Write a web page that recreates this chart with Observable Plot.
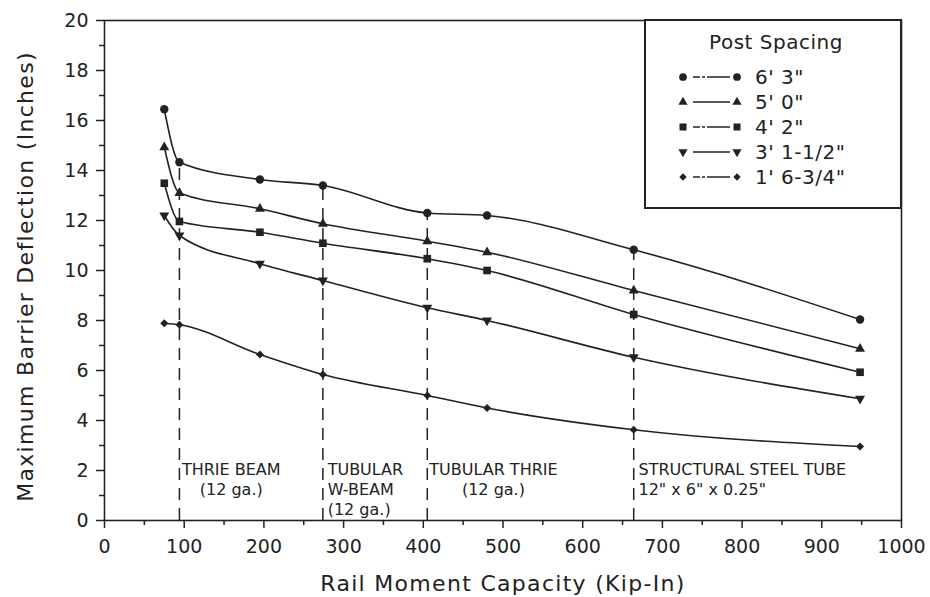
<!DOCTYPE html>
<html>
<head>
<meta charset="utf-8">
<script src="https://cdn.jsdelivr.net/npm/d3@7"></script>
<script src="https://cdn.jsdelivr.net/npm/@observablehq/plot@0.6"></script>
<style>
  body { margin: 0; background: #fff; }
  #chart svg { display: block; }
</style>
</head>
<body>
<div id="chart"></div>
<script>
// ---- Data ----
const railMoment = [75, 94, 195, 274, 405, 480, 664, 948];   // Kip-In
const seriesNames = ["6' 3\"", "5' 0\"", "4' 2\"", "3' 1-1/2\"", "1' 6-3/4\""];
const spacing63  = [16.45, 14.33, 13.64, 13.40, 12.30, 12.20, 10.83, 8.04];
const spacing50  = [14.93, 13.10, 12.47, 11.87, 11.17, 10.73,  9.20, 6.87];
const spacing42  = [13.49, 11.96, 11.53, 11.09, 10.47, 10.00,  8.24, 5.93];
const spacing31  = [12.20, 11.40, 10.27,  9.60,  8.51,  8.00,  6.53, 4.87];
const spacing16  = [ 7.89,  7.83,  6.64,  5.84,  5.00,  4.50,  3.63, 2.96];
const seriesValues = [spacing63, spacing50, spacing42, spacing31, spacing16];

// rail types marked with dashed lines (x positions are data points)
const railTypeX = [94, 274, 405, 664];
const annoText  = ["THRIE BEAM\n(12 ga.)", "TUBULAR\nW-BEAM\n(12 ga.)", "TUBULAR THRIE\n(12 ga.)", "STRUCTURAL STEEL TUBE\n12\" x 6\" x 0.25\""];
const annoX     = [159, 280, 488, 670];
const annoY     = [2.4, 2.4, 2.4, 2.4];
const annoAlign = ["middle", "start", "middle", "start"];

const xTicks = d3.range(0, 1001, 100);
const xMinor = d3.range(50, 1000, 100);
const yTicks = d3.range(0, 21, 2);
const yMinor = d3.range(1, 20, 2);

// ---- Build tables ----
const ink = "#222";
const triangleDown = {
  draw(context, size) {
    const y = -Math.sqrt(size / (Math.sqrt(3) * 3));
    context.moveTo(0, -y * 2);
    context.lineTo(-Math.sqrt(3) * y, y);
    context.lineTo(Math.sqrt(3) * y, y);
    context.closePath();
  }
};
const symbols = ["circle", "triangle", "square", triangleDown, "diamond2"];
const d3Symbols = [d3.symbolCircle, d3.symbolTriangle, d3.symbolSquare, triangleDown, d3.symbolDiamond2];
const radii = [4.2, 3.7, 4.3, 3.7, 3.6];

const rows = [];
seriesNames.forEach((name, i) => {
  railMoment.forEach((x, j) => rows.push({series: name, idx: i, x, y: seriesValues[i][j]}));
});
const dividers = railTypeX.map(x => ({x, top: spacing63[railMoment.indexOf(x)]}));
const annos = annoText.map((t, i) => ({text: t, x: annoX[i], y: annoY[i], align: annoAlign[i]}));

const marks = [
  Plot.frame({stroke: ink, strokeWidth: 1.6}),
  Plot.ruleX(dividers, {x: "x", y1: 0, y2: "top", stroke: ink, strokeWidth: 1.5, strokeDasharray: "12,8"}),
  Plot.line(rows, {x: "x", y: "y", z: "series", curve: "monotone-x", stroke: ink, strokeWidth: 1.6}),
];
seriesNames.forEach((name, i) => {
  marks.push(Plot.dot(rows.filter(d => d.idx === i), {x: "x", y: "y", symbol: symbols[i], r: radii[i], fill: ink, stroke: "none"}));
});
marks.push(
  Plot.text(annos.filter(d => d.align === "middle"), {x: "x", y: "y", text: "text", textAnchor: "middle", lineAnchor: "top", lineHeight: 1.25, fontSize: 16, fill: ink}),
  Plot.text(annos.filter(d => d.align === "start"), {x: "x", y: "y", text: "text", textAnchor: "start", lineAnchor: "top", lineHeight: 1.25, fontSize: 16, fill: ink}),
  Plot.axisX({ticks: xTicks, tickSize: 8, tickPadding: 11, fontSize: 19, label: null, tickFormat: "d", strokeWidth: 1.5}),
  Plot.axisX({ticks: xMinor, tickSize: 5, tickFormat: () => "", label: null, strokeWidth: 1.5}),
  Plot.axisY({ticks: yTicks, tickSize: 8, tickPadding: 8, fontSize: 19, label: null, tickFormat: "d", strokeWidth: 1.5}),
  Plot.axisY({ticks: yMinor, tickSize: 5, tickFormat: () => "", label: null, strokeWidth: 1.5}),
  Plot.text(["Rail Moment Capacity (Kip-In)"], {frameAnchor: "bottom", dy: 63, textAnchor: "middle", lineAnchor: "middle", fontSize: 22, fill: ink}),
  Plot.text(["Maximum Barrier Deflection (Inches)"], {frameAnchor: "left", dx: -79, dy: 6, rotate: -90, textAnchor: "middle", lineAnchor: "middle", fontSize: 22, fill: ink})
);

const chart = Plot.plot({
  width: 930,
  height: 597,
  marginLeft: 104,
  marginRight: 29,
  marginTop: 20,
  marginBottom: 77,
  style: {fontFamily: "'DejaVu Sans', sans-serif", fontSize: "19px", background: "#fff", color: ink},
  x: {domain: [0, 1000]},
  y: {domain: [0, 20]},
  marks
});

// letter spacing on the axis titles
d3.select(chart).selectAll("text").filter(function() {
  const t = this.textContent;
  return t.startsWith("Rail Moment") || t.startsWith("Maximum Barrier");
}).attr("letter-spacing", "1.3px");

// ---- Legend box (inside top-right of frame) ----
const xScale = chart.scale("x"), yScale = chart.scale("y");
const boxRight = xScale.apply(1000), boxTop = yScale.apply(20);
const boxW = 256, boxH = 188;
const lg = d3.select(chart).append("g").attr("transform", `translate(${boxRight - boxW},${boxTop})`)
  .attr("font-family", "'DejaVu Sans', sans-serif").attr("fill", ink).attr("text-anchor", "start");
lg.append("rect").attr("width", boxW).attr("height", boxH).attr("fill", "#fff").attr("stroke", ink).attr("stroke-width", 2);
lg.append("text").attr("x", boxW / 2 + 3).attr("y", 22).attr("text-anchor", "middle").attr("dominant-baseline", "central")
  .attr("font-size", 20).attr("letter-spacing", "0.5px").text("Post Spacing");
seriesNames.forEach((name, i) => {
  const gy = 57 + 25 * i;
  const sym = d3.symbol(d3Symbols[i], Math.PI * radii[i] * radii[i] * 0.85);
  lg.append("path").attr("d", sym()).attr("transform", `translate(38,${gy})`).attr("fill", ink);
  lg.append("line").attr("x1", 48).attr("x2", 85).attr("y1", gy).attr("y2", gy)
    .attr("stroke", ink).attr("stroke-width", 1.5)
    .attr("stroke-dasharray", i % 2 === 0 ? "7,2,3,2,40" : null);
  lg.append("path").attr("d", sym()).attr("transform", `translate(92,${gy})`).attr("fill", ink);
  lg.append("text").attr("x", 110).attr("y", gy).attr("text-anchor", "start").attr("dominant-baseline", "central")
    .attr("font-size", 20).attr("letter-spacing", "0.5px").text(name);
});

document.getElementById("chart").append(chart);
</script>
</body>
</html>
